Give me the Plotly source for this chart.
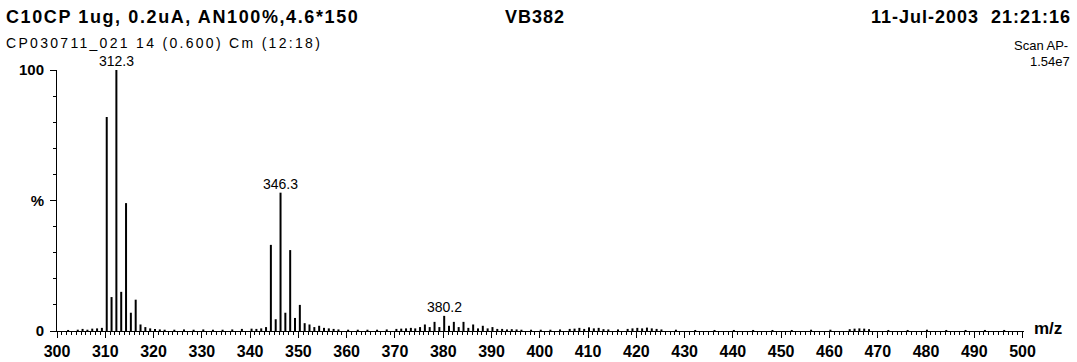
import plotly.graph_objects as go

# ---- data ----
peak_mz = [310.3, 311.3, 312.3, 313.3, 314.3, 315.3, 316.3, 317.3, 318.3, 319.3,
           343.3, 344.3, 345.3, 346.3, 347.3, 348.3, 349.3, 350.3, 351.3, 352.3, 353.3, 354.3, 355.3, 356.3,
           374.2, 375.2, 376.2, 377.2, 378.2, 379.2, 380.2, 381.2, 382.2, 383.2, 384.2, 385.2, 386.2,
           387.2, 388.2, 389.2, 390.2, 391.2, 392.2]
peak_int = [82, 13, 100, 15, 49, 7, 12, 2.5, 1.5, 1.0,
            1.5, 33, 4.5, 53, 7, 31, 5, 10, 3, 2.5, 1.5, 2, 1.2, 1.0,
            1.0, 1.5, 2.5, 1.5, 3.5, 1.5, 5.8, 2, 3.5, 1.5, 3.5, 1.2, 2.5,
            1.0, 2.0, 1.0, 1.5, 0.8, 0.8]

noise_mz = [302.3, 304.3, 305.3, 306.3, 307.3, 308.3, 309.3,
            320.3, 321.3, 322.3, 324.3, 326.3, 328.3, 330.3, 332.3, 334.3, 336.3, 338.3, 340.3, 341.3, 342.3,
            357.3, 358.3, 360.3, 362.3, 364.3, 366.3, 368.3, 370.3, 371.3, 372.3, 373.3,
            393.2, 394.2, 395.2, 396.2, 398.2, 400.2, 402.2, 404.2, 406.2, 407.2, 408.2, 409.2, 410.2,
            411.2, 412.2, 413.2, 414.2, 416.2, 418.2, 419.2, 420.2, 421.2, 422.2, 423.2, 424.2, 425.2,
            428.2, 432.2, 436.2, 440.2, 444.2, 448.2, 452.2, 456.2, 460.2, 464.2, 465.2, 466.2, 467.2,
            468.2, 472.2, 476.2, 480.2, 484.2, 488.2, 492.2, 496.2]
noise_int = [0.4, 0.5, 0.8, 0.5, 0.9, 1.0, 1.2,
             0.8, 0.6, 0.5, 0.5, 0.6, 0.5, 0.6, 0.5, 0.5, 0.6, 0.8, 0.9, 0.8, 1.0,
             0.8, 0.6, 0.5, 0.5, 0.5, 0.5, 0.6, 0.8, 0.9, 1.0, 1.2,
             0.6, 0.7, 0.6, 0.5, 0.5, 0.5, 0.5, 0.6, 0.8, 0.9, 1.2, 0.8, 1.4,
             1.0, 1.2, 0.7, 0.6, 0.6, 0.8, 1.0, 1.2, 1.0, 1.3, 1.0, 0.8, 0.6,
             0.5, 0.4, 0.4, 0.4, 0.4, 0.4, 0.4, 0.5, 0.5, 0.7, 0.9, 1.0, 0.9,
             0.7, 0.4, 0.4, 0.5, 0.4, 0.4, 0.4, 0.4]

label_mz = [312.3, 346.3, 380.2]
label_int = [100, 53, 5.8]
label_txt = ["312.3", "346.3", "380.2"]

x_ticks = list(range(300, 501, 10))
y_tickvals = [0, 50, 100]
y_ticktext = ["0", "%", "100"]

# ---- build sticks ----
all_mz = noise_mz + peak_mz
all_int = noise_int + peak_int
xs, ys = [], []
for m, v in zip(all_mz, all_int):
    xs += [m, m, None]
    ys += [0, v, None]

W, H = 1077, 362
L, R, T, B = 57, 53, 70, 31
pw, ph = W - L - R, H - T - B

def px(x):
    return (x - L) / pw

def py(y):
    return (H - B - y) / ph

fig = go.Figure()
fig.add_trace(go.Scatter(x=xs, y=ys, mode="lines",
                         line=dict(color="black", width=2),
                         hoverinfo="skip", showlegend=False))

FONT = "Liberation Sans, Arial, sans-serif"
ann = []
for m, v, t in zip(label_mz, label_int, label_txt):
    ann.append(dict(x=m, y=v, xref="x", yref="y", text=t, showarrow=False,
                    yanchor="bottom", xanchor="center", yshift=0, borderpad=0,
                    font=dict(family=FONT, size=14, color="black")))

def txt(text, x, y, anchor, size, bold=False, ls=0):
    if bold:
        text = "<b>" + text + "</b>"
    if ls:
        text = '<span style="letter-spacing:%spx">' % ls + text + "</span>"
    ann.append(dict(x=px(x), y=py(y), xref="paper", yref="paper", text=text,
                    showarrow=False, xanchor=anchor, yanchor="middle", borderpad=0,
                    font=dict(family=FONT, size=size, color="black")))

txt("C10CP 1ug, 0.2uA, AN100%,4.6*150", 5, 17, "left", 18, bold=True, ls=1.6)
txt("VB382", 535, 17, "center", 18, bold=True, ls=1)
txt("11-Jul-2003&nbsp;&nbsp;21:21:16", 1072, 17, "right", 18, bold=True, ls=1)
txt("CP030711_021 14 (0.600) Cm (12:18)", 5, 43, "left", 14, ls=2.3)
txt("Scan AP-", 1069, 45, "right", 13)
txt("1.54e7", 1071, 62, "right", 13)
txt("<b>m/z</b>", 1048, 328, "center", 17)

fig.update_layout(
    width=W, height=H,
    margin=dict(l=L, r=R, t=T, b=B, autoexpand=False),
    paper_bgcolor="white", plot_bgcolor="white",
    annotations=ann,
    xaxis=dict(range=[300, 500.3], tickvals=x_ticks, showgrid=False, zeroline=False,
               automargin=False,
               showline=True, linecolor="black", linewidth=1,
               ticks="outside", ticklen=6, tickcolor="black", tickwidth=1,
               minor=dict(dtick=1, tick0=300, ticks="outside", ticklen=3, tickcolor="black", tickwidth=1),
               tickfont=dict(family=FONT, size=16, color="black", weight="bold")),
    yaxis=dict(range=[0, 100], tickvals=y_tickvals, ticktext=y_ticktext, showgrid=False,
               automargin=False,
               zeroline=False, showline=True, linecolor="black", linewidth=1,
               ticks="outside", ticklen=6, tickcolor="black", tickwidth=1,
               ticklabelstandoff=3,
               minor=dict(tickvals=[10, 20, 30, 40, 60, 70, 80, 90], ticks="outside", ticklen=3,
                          tickcolor="black", tickwidth=1),
               tickfont=dict(family=FONT, size=15, color="black", weight="bold")),
)

fig.write_html("out.html")
